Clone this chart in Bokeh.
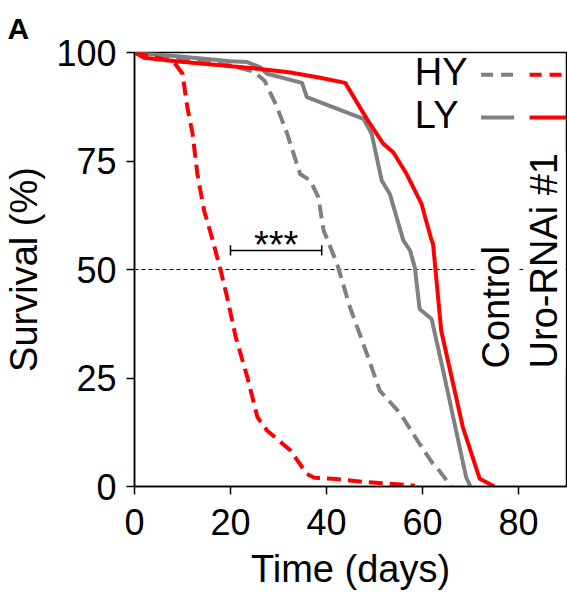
import math
from bokeh.plotting import figure
from bokeh.models import Range1d, Label, FixedTicker
from bokeh.embed import file_html
from bokeh.resources import INLINE

# ---------------- data ----------------
ctrl_hy_days = [0, 10, 20, 24.8, 27.1, 29.7, 31.8, 34.5, 36.6, 38.3, 39.4, 42.2, 44.9, 48.4, 51.1, 55.4, 59.4, 62.2, 63.2, 66]
ctrl_hy_surv = [100, 98.5, 97, 95.6, 93.5, 87.4, 81.3, 72, 70.5, 66.7, 59, 51.3, 41.3, 30.6, 22.1, 16.8, 9.8, 5.2, 4.1, 0]

ctrl_ly_days = [0, 5, 10, 20, 23.5, 26.2, 27.6, 34.9, 35.9, 47.7, 49.4, 51.5, 53.2, 56, 57.4, 58.4, 59.4, 61.9, 64.3, 69.1, 70]
ctrl_ly_surv = [100, 99.5, 99, 98, 97.8, 96.6, 95.1, 93, 89.7, 84.7, 81.3, 70.5, 67.4, 56.7, 54.4, 50.5, 40.9, 38.6, 26.7, 2.1, 0]

uro_hy_days = [0, 4, 8.2, 10, 11, 12.1, 13.1, 14.5, 16.2, 17.9, 19.3, 21.1, 23.5, 25.6, 27.6, 32.5, 35.9, 37.5, 41.4, 48.4, 58.4]
uro_hy_surv = [100, 99, 97.8, 95.1, 87.4, 81.3, 72, 63.6, 57.1, 50, 43.6, 34.4, 25.2, 16, 12.9, 8.3, 2.9, 2.0, 1.8, 1.0, 0.2]

uro_ly_days = [0, 2, 8.6, 26.2, 32.5, 38.7, 43.9, 48.4, 51.8, 53.9, 56.7, 59.8, 61.9, 62.2, 63.9, 68.4, 71.9, 75]
uro_ly_surv = [100, 98.8, 98, 96.2, 95.4, 94.2, 93, 84.7, 79, 77, 72, 65.1, 56.7, 55.9, 35.9, 13.7, 1.8, 0]

x_ticks = [0, 20, 40, 60, 80]
y_ticks = [0, 25, 50, 75, 100]

median_level = 50
sig_from, sig_to, sig_level = 20, 39, 54.4
sig_text = "***"

legend_rows = ["HY", "LY"]
group_names = ["Control", "Uro-RNAi #1"]

# ---------------- style ----------------
GRAY = "#808080"
RED = "#FF0000"
FONT = "Liberation Sans"
DASH = "14 7"
LW = 4

p = figure(width=567, height=601, output_backend="svg", toolbar_location=None,
           x_range=Range1d(0, 90), y_range=Range1d(0, 100),
           min_border_left=133, min_border_right=1, min_border_top=52, min_border_bottom=115)
p.background_fill_color = "white"
p.border_fill_color = "white"
p.grid.visible = False
p.outline_line_color = "black"
p.outline_line_width = 1.5

p.title.text = "A"
p.title.text_font = FONT
p.title.text_font_size = "30px"
p.title.text_font_style = "bold"
p.title.text_color = "black"
p.title.align = "left"
p.title.offset = -127
p.title.standoff = 16

for ax in (p.xaxis[0], p.yaxis[0]):
    ax.axis_line_width = 1.5
    ax.major_tick_line_width = 1.5
    ax.major_tick_out = 8
    ax.major_tick_in = 0
    ax.minor_tick_out = 0
    ax.minor_tick_in = 0
    ax.major_label_text_font = FONT
    ax.major_label_text_font_size = "36px"
    ax.major_label_text_color = "black"
    ax.axis_label_text_font = FONT
    ax.axis_label_text_font_size = "38px"
    ax.axis_label_text_font_style = "normal"
    ax.axis_label_text_color = "black"

p.xaxis.ticker = FixedTicker(ticks=x_ticks)
p.yaxis.ticker = FixedTicker(ticks=y_ticks)
p.xaxis.axis_label = "Time (days)"
p.yaxis.axis_label = "Survival (%)"
p.xaxis.major_label_standoff = 14
p.yaxis.major_label_standoff = 10
p.xaxis.axis_label_standoff = 10
p.yaxis.axis_label_standoff = 8

# median reference line
p.line([0, 90], [median_level, median_level], line_color="black", line_width=1.2, line_dash="4 3")

# curves
p.line(ctrl_hy_days, ctrl_hy_surv, line_color=GRAY, line_width=LW, line_dash=DASH)
p.line(ctrl_ly_days, ctrl_ly_surv, line_color=GRAY, line_width=LW)
p.line(uro_hy_days, uro_hy_surv, line_color=RED, line_width=LW, line_dash=DASH)
p.line(uro_ly_days, uro_ly_surv, line_color=RED, line_width=LW)

# significance bracket
p.segment(x0=[sig_from, sig_from, sig_to], y0=[sig_level, sig_level - 1.2, sig_level - 1.2],
          x1=[sig_to, sig_from, sig_to], y1=[sig_level, sig_level + 1.2, sig_level + 1.2],
          line_color="black", line_width=1.5)
p.add_layout(Label(x=(sig_from + sig_to) / 2, y=sig_level + 1.3, text=sig_text, text_align="center",
                   text_baseline="alphabetic", text_font=FONT, text_font_size="38px", text_color="black"))

# legend (manual)
leg_text_x = 58.4
leg_y = [94.9, 85.0]
leg_dash = ["12 8", None]
for row, yy, dsh in zip(legend_rows, leg_y, leg_dash):
    p.add_layout(Label(x=leg_text_x, y=yy + 0.6, text=row, text_align="left", text_baseline="middle",
                       text_font=FONT, text_font_size="38px", text_color="black"))
    kw = {} if dsh is None else {"line_dash": dsh}
    p.line([72.2, 79.1], [yy, yy], line_color=GRAY, line_width=LW, **kw)
    p.line([82.3, 90], [yy, yy], line_color=RED, line_width=LW, **kw)

# group names, rotated
for name, xx in zip(group_names, [75.3, 85.4]):
    p.add_layout(Label(x=xx, y=27.2, text=name, angle=math.pi / 2, text_align="left",
                       text_baseline="middle", text_font=FONT, text_font_size="38px",
                       text_color="black", background_fill_color="white"))

open("out.html", "w").write(file_html(p, INLINE))
